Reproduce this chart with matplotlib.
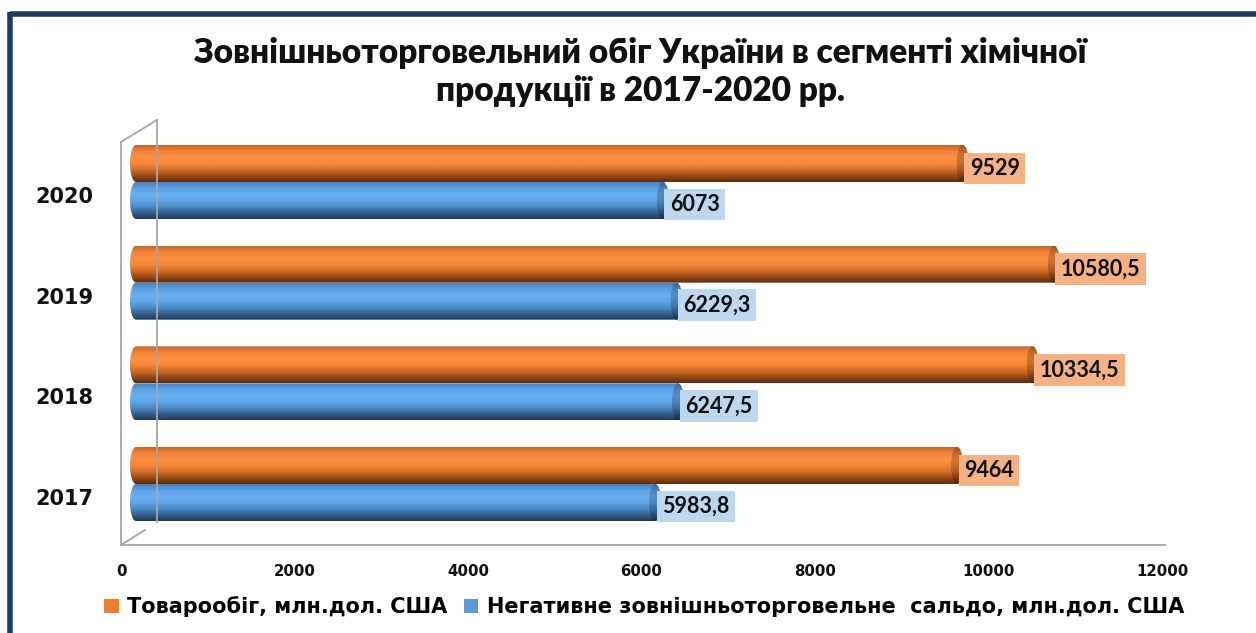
import numpy as np
import matplotlib
matplotlib.use("Agg")
import matplotlib.pyplot as plt
import matplotlib.transforms as mtransforms
from matplotlib.path import Path
from matplotlib.patches import PathPatch, Ellipse, Patch
from matplotlib.lines import Line2D
from matplotlib.colors import to_rgb

# ---- data ----
years = ["2017", "2018", "2019", "2020"]
turnover = [9464, 10334.5, 10580.5, 9529]          # Товарообіг
deficit = [5983.8, 6247.5, 6229.3, 6073]           # Негативне сальдо
turnover_labels = ["9464", "10334,5", "10580,5", "9529"]
deficit_labels = ["5983,8", "6247,5", "6229,3", "6073"]
series_names = ["Товарообіг, млн.дол. США",
                "Негативне зовнішньоторговельне  сальдо, млн.дол. США"]
xticks = [0, 2000, 4000, 6000, 8000, 10000, 12000]
title = "Зовнішньоторговельний обіг України в сегменті хімічної\nпродукції в 2017-2020 рр."

W, H = 1256, 633
fig = plt.figure(figsize=(W / 100, H / 100), dpi=100)
fig.patch.set_facecolor("white")

def fx(px):
    return px / W

def fy(py):
    return 1 - py / H

# axes: x 0 -> 121 px, 12000 -> 1162 px ; y bottom 545 px, top 120 px
ax_l, ax_r, ax_b, ax_t = 121, 1162, 545, 120
ax = fig.add_axes([fx(ax_l), fy(ax_b), fx(ax_r - ax_l), (ax_b - ax_t) / H])
ax.set_xlim(0, 12000)
unit_px = 100.7
y_lo = -(545 - 497) / unit_px
y_hi = 3 + (195 - 120) / unit_px
ax.set_ylim(y_lo, y_hi)
for s in ax.spines.values():
    s.set_visible(False)
ax.set_facecolor("none")

px_per_x = (ax_r - ax_l) / 12000.0
px_per_y = (ax_b - ax_t) / (y_hi - y_lo)

# 3D depth shift of bars
shift = mtransforms.ScaledTranslation(15 / 100, 13 / 100, fig.dpi_scale_trans)
tr = ax.transData + shift

bar_h = 37 / px_per_y
off = 18.5 / px_per_y
cap_a = 6 / px_per_x  # ellipse half width in data units

orange_stops = ["#c8662a", "#f2853a", "#ff8f40", "#f5873a", "#d36f28", "#9a4c18", "#5e2c0c"]
blue_stops = ["#4682c0", "#5ea2e4", "#68b0f2", "#60a6ea", "#4d89c8", "#34608e", "#1e3a58"]

def gradient(stops, n=64):
    cols = np.array([to_rgb(c) for c in stops])
    pos = np.linspace(0, 1, len(stops))
    t = np.linspace(0, 1, n)
    g = np.stack([np.interp(t, pos, cols[:, k]) for k in range(3)], axis=1)
    return g[:, None, :]

def cylinder(value, yc, stops, zorder):
    y0, y1 = yc - bar_h / 2, yc + bar_h / 2
    a = cap_a
    th_l = np.linspace(np.pi / 2, 3 * np.pi / 2, 40)
    th_r = np.linspace(-np.pi / 2, np.pi / 2, 40)
    left = np.column_stack([0 + a * np.cos(th_l), yc + (bar_h / 2) * np.sin(th_l)])
    right = np.column_stack([value + a * np.cos(th_r), yc + (bar_h / 2) * np.sin(th_r)])
    verts = np.vstack([left, right, left[:1]])
    codes = [Path.MOVETO] + [Path.LINETO] * (len(verts) - 2) + [Path.CLOSEPOLY]
    patch = PathPatch(Path(verts, codes), facecolor="none", edgecolor="none",
                      transform=tr, zorder=zorder)
    ax.add_patch(patch)
    im = ax.imshow(gradient(stops), extent=(-a, value + a, y0, y1), origin="upper",
                   aspect="auto", transform=tr, zorder=zorder, interpolation="bilinear")
    im.set_clip_path(patch)
    dark = [tuple(0.8 * np.array(to_rgb(c))) for c in stops]
    cap = Ellipse((value, yc), 2 * a, bar_h, transform=tr, zorder=zorder + 0.1,
                  facecolor="none", edgecolor="none")
    ax.add_patch(cap)
    im2 = ax.imshow(gradient(dark), extent=(value - a, value + a, y0, y1), origin="upper",
                    aspect="auto", transform=tr, zorder=zorder + 0.1, interpolation="bilinear")
    im2.set_clip_path(cap)

ypos = np.arange(len(years))
for i in range(len(years)):
    cylinder(turnover[i], ypos[i] + off, orange_stops, 3 + i * 0.01)
    cylinder(deficit[i], ypos[i] - off, blue_stops, 4 + i * 0.01)

lab_kw = dict(fontsize=15.5, fontweight="bold", family=["Lato", "DejaVu Sans"],
              color="#111111", va="center", ha="left", zorder=10, transform=tr)
for i in range(len(years)):
    ax.text(turnover[i] + 0.3 * cap_a + 60, ypos[i] + off - 5 / px_per_y, turnover_labels[i],
            bbox=dict(boxstyle="square,pad=0.25", facecolor="#f4b183", edgecolor="none"), **lab_kw)
    ax.text(deficit[i] + 0.3 * cap_a + 60, ypos[i] - off - 4 / px_per_y, deficit_labels[i],
            bbox=dict(boxstyle="square,pad=0.25", facecolor="#bdd7ee", edgecolor="none"), **lab_kw)

ax.set_xticks(xticks)
ax.set_xticklabels([str(t) for t in xticks])
ax.set_yticks(ypos)
ax.set_yticklabels(years)
ax.tick_params(axis="x", length=0, pad=14, labelsize=10.8)
ax.tick_params(axis="y", length=0, pad=20, labelsize=15)
for lbl in ax.get_xticklabels() + ax.get_yticklabels():
    lbl.set_fontweight("bold")
    lbl.set_color("#111111")

# 3D frame lines (walls / floor)
gcol = "#a6a6a6"
frame = [((121, 142), (121, 545)), ((157, 120), (157, 522)), ((121, 142), (157, 120)),
         ((121, 545), (145, 530)), ((121, 545), (1165, 545))]
for (x0, y0), (x1, y1) in frame:
    fig.add_artist(Line2D([fx(x0), fx(x1)], [fy(y0), fy(y1)], color=gcol, lw=1.3,
                          transform=fig.transFigure, zorder=1))

# outer border (top and left)
fig.add_artist(Line2D([fx(10), fx(1260)], [fy(13.5), fy(13.5)], color="#1f3a5f", lw=4,
                      transform=fig.transFigure, solid_capstyle="butt"))
fig.add_artist(Line2D([fx(10), fx(10)], [fy(12), fy(640)], color="#1f3a5f", lw=4,
                      transform=fig.transFigure, solid_capstyle="butt"))

fig.text(fx(640), fy(72), title, ha="center", va="center", fontsize=24, fontweight="heavy",
         family=["Lato", "DejaVu Sans"], linespacing=1.2, color="#111111")

handles = [Patch(facecolor="#ed7d31", edgecolor="none"), Patch(facecolor="#5b9bd5", edgecolor="none")]
fig.legend(handles, series_names, loc="center", bbox_to_anchor=(fx(644), fy(607)), ncol=2,
           frameon=False, prop=dict(weight="bold", size=15), handlelength=0.7, handleheight=0.7,
           handletextpad=0.4, columnspacing=0.8)

fig.savefig("out.png", dpi=100, facecolor="white")
